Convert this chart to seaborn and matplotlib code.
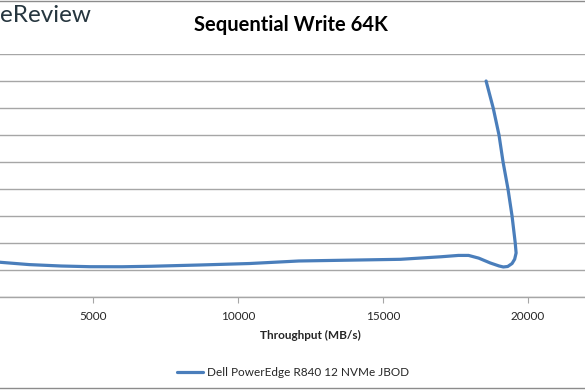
import matplotlib
matplotlib.use("Agg")
import matplotlib.pyplot as plt
import seaborn as sns
import pandas as pd
from matplotlib.patches import Rectangle

# Throughput (MB/s) vs average latency (ms)
throughput = [1200, 1800, 2800, 3900, 4900, 6000, 7000, 8700, 10400, 12100,
              13800, 15600, 17000, 17600, 17950, 18300, 18700, 19000, 19150,
              19300, 19450, 19540, 19590, 19560, 19450, 19310, 19140, 19000,
              18800, 18555]
latency = [0.69, 0.643, 0.60, 0.574, 0.561, 0.560, 0.569, 0.593, 0.620, 0.667,
           0.682, 0.698, 0.745, 0.770, 0.770, 0.72, 0.63, 0.575, 0.556,
           0.565, 0.62, 0.70, 0.815, 1.0, 1.5, 2.0, 2.5, 3.0,
           3.5, 4.0]
series_name = "Dell PowerEdge R840 12 NVMe JBOD"
x_ticks = [5000, 10000, 15000, 20000]

df = pd.DataFrame({"Throughput (MB/s)": throughput, "Latency (ms)": latency})

sns.set_style("white")
plt.rcParams["font.family"] = ["Lato", "DejaVu Sans"]

fig = plt.figure(figsize=(5.85, 3.9), dpi=100)
# plot area runs past both sides: the reference is a crop of a wider chart
ax = fig.add_axes([-52 / 585, 93 / 390, 725 / 585, 243 / 390])

sns.lineplot(data=df, x="Throughput (MB/s)", y="Latency (ms)", sort=False,
             estimator=None, color="#4a7ebb", linewidth=2.3, ax=ax,
             label=series_name, legend=False, solid_joinstyle="round",
             solid_capstyle="round")

ax.set_xlim(0, 25000)
ax.set_ylim(0, 4.5)
ax.set_xticks(x_ticks)
ax.set_xticklabels([str(t) for t in x_ticks], fontsize=8.5)
ax.set_yticks([i * 0.5 for i in range(10)])
ax.set_yticklabels([])
ax.grid(axis="y", color="#a6a6a6", linewidth=1.0)
ax.set_axisbelow(True)
for s in ["left", "right", "top"]:
    ax.spines[s].set_visible(False)
ax.spines["bottom"].set_color("#a6a6a6")
ax.spines["bottom"].set_linewidth(1.0)
ax.tick_params(axis="x", direction="out", length=4, color="#a6a6a6",
               bottom=True, pad=6)
ax.tick_params(axis="y", left=False)
ax.set_xlabel("Throughput (MB/s)", fontsize=8.5, fontweight="bold", labelpad=6)
ax.set_ylabel("")

fig.text(291 / 585, 1 - 25 / 390, "Sequential Write 64K", ha="center",
         va="center", fontsize=14.5, fontweight="bold", color="black")
fig.text(0, 1 - 16 / 390, "eReview", ha="left", va="center",
         fontsize=17.5, color="#26363f")

fig.legend(loc="center", bbox_to_anchor=(293 / 585, 1 - 373 / 390),
           frameon=False, fontsize=8.5, handlelength=2.2, handletextpad=0.4)

fig.patches.append(Rectangle((-0.05, 0.004), 1.1, 0.993, transform=fig.transFigure,
                             fill=False, edgecolor="#8c8c8c", linewidth=1.0))

fig.savefig("out.png", dpi=100)
